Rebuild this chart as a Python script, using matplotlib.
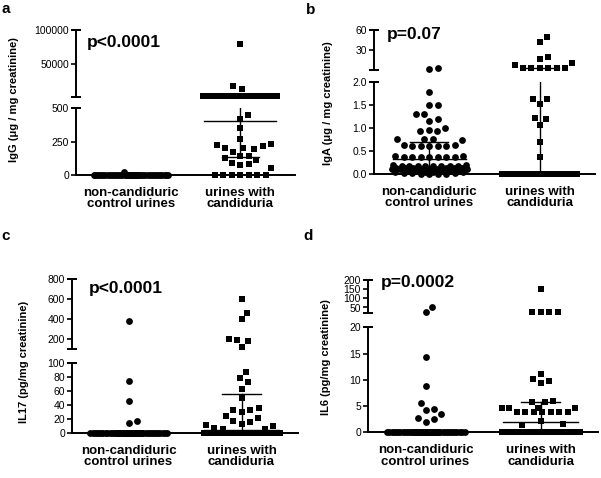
import numpy as np
import matplotlib
matplotlib.use("Agg")
import matplotlib.pyplot as plt

plt.rcParams['font.family'] = ['Liberation Sans', 'DejaVu Sans']

W, H = 601, 478

# ---------------- data ----------------
groups = ["non-candiduric\ncontrol urines", "urines with\ncandiduria"]

# IgG (ug / mg creatinine)
igg_ctrl_zeros = 44
igg_ctrl = [25]
igg_cand_zeros = 7
igg_cand = [80000, 17000, 13000,
            2600, 2800, 3000, 2700, 2900, 3100, 2500, 2750, 2950, 3050, 2650, 2850,
            3200, 2550, 2800, 3000, 2700, 2900, 2600, 3100, 2750, 2950, 2850, 2650,
            445, 415, 350, 270, 225, 200, 195, 205, 233, 215, 175, 140, 145, 115,
            125, 80, 75, 88, 50]

# IgA (ug / mg creatinine)
iga_ctrl_zeros = 4
iga_ctrl = [2.8, 4.6, 1.78, 1.5, 1.5, 1.3, 1.3, 1.2, 1.15, 0.96, 0.93, 0.93, 1.0,
            0.77, 0.77, 0.76, 0.74, 0.64, 0.6, 0.6, 0.6, 0.6, 0.6, 0.63,
            0.4, 0.37, 0.37, 0.37, 0.37, 0.37, 0.37, 0.38, 0.4,
            0.2, 0.2, 0.17, 0.17, 0.17, 0.17, 0.17, 0.17, 0.17, 0.17,
            0.14, 0.14, 0.14, 0.14, 0.14, 0.14, 0.11, 0.11, 0.11, 0.11, 0.11, 0.11,
            0.08, 0.08, 0.08, 0.08, 0.08, 0.05, 0.05, 0.05, 0.05, 0.02, 0.02, 0.02]
iga_cand_zeros = 32
iga_cand = [49, 43, 21, 17, 11, 9, 3.5, 3.5, 3.5, 3.5, 3.5, 3.5,
            1.63, 1.62, 1.52, 1.19, 1.22, 1.07, 0.69, 0.36]

# IL17 (pg/mg creatinine)
il17_ctrl_zeros = 50
il17_ctrl = [386, 74, 45, 17, 14]
il17_cand_zeros = 28
il17_cand = [603, 466, 400, 193, 203, 183, 120,
             87, 78, 72, 63, 50, 36, 33, 33, 29, 24, 21, 17, 15, 13, 11, 9, 7, 5, 5]

# IL6 (pg/mg creatinine)
il6_ctrl_zeros = 50
il6_ctrl = [55, 24, 14.4, 8.9, 5.6, 4.5, 4.2, 3.5, 2.7, 2.5, 2.0]
il6_cand_zeros = 30
il6_cand = [151, 24, 24, 24, 24, 11.1, 10.1, 9.8, 9.4, 6.0, 5.7, 5.7,
            4.6, 4.6, 4.6, 4.6, 3.8, 3.8, 3.8, 3.8, 3.8, 3.8, 3.8, 2.2, 1.6, 1.4]

# median / interquartile range drawn on each group
igg_stats = [(0, 0, 0), (400, 137, 2800)]
iga_stats = [(0.32, 0.12, 0.70), (0, 0, 4.5)]
il17_stats = [(0, 0, 0), (4, 0, 56)]
il6_stats = [(0, 0, 0), (2.0, 0, 5.7)]

p_values = ["p<0.0001", "p=0.07", "p<0.0001", "p=0.0002"]
ylabels = ["IgG (\u03bcg / mg creatinine)", "IgA (\u03bcg / mg creatinine)",
           "IL17 (pg/mg creatinine)", "IL6 (pg/mg creatinine)"]
letters = ["a", "b", "c", "d"]

# ---------------- layout ----------------
panels = [
    dict(x0=76, x1=295, top=(30, 97), bot=(108, 175), ylim_top=(1000, 100000), ylim_bot=(0, 500),
         yt_top=[50000, 100000], yt_bot=[0, 250, 500], fmt_top="{:g}", fmt_bot="{:g}",
         ctrl=[0.0] * igg_ctrl_zeros + igg_ctrl, cand=[0.0] * igg_cand_zeros + igg_cand,
         stats=igg_stats, letter=(6, 9), ylab=(14, 100), ptxt=(87, 42)),
    dict(x0=374, x1=595, top=(30, 69.5), bot=(82, 174), ylim_top=(2, 60), ylim_bot=(0, 2),
         yt_top=[30, 60], yt_bot=[0, 0.5, 1.0, 1.5, 2.0], fmt_top="{:g}", fmt_bot="{:.1f}",
         ctrl=[0.0] * iga_ctrl_zeros + iga_ctrl, cand=[0.0] * iga_cand_zeros + iga_cand,
         stats=iga_stats, letter=(311, 10), ylab=(328, 103), ptxt=(387, 35)),
    dict(x0=72, x1=298, top=(279.3, 349), bot=(362.7, 432.7), ylim_top=(100, 800), ylim_bot=(0, 100),
         yt_top=[200, 400, 600, 800], yt_bot=[0, 20, 40, 60, 80, 100], fmt_top="{:g}", fmt_bot="{:g}",
         ctrl=[0.0] * il17_ctrl_zeros + il17_ctrl, cand=[0.0] * il17_cand_zeros + il17_cand,
         stats=il17_stats, letter=(6, 236), ylab=(24, 362), ptxt=(89, 288)),
    dict(x0=368, x1=598, top=(280, 313), bot=(327.3, 432.3), ylim_top=(20, 200), ylim_bot=(0, 20),
         yt_top=[50, 100, 150, 200], yt_bot=[0, 5, 10, 15, 20], fmt_top="{:g}", fmt_bot="{:g}",
         ctrl=[0.0] * il6_ctrl_zeros + il6_ctrl, cand=[0.0] * il6_cand_zeros + il6_cand,
         stats=il6_stats, letter=(308, 236), ylab=(326, 357), ptxt=(381, 283)),
]

MARK_PX = 8.5
HALF_W = 0.34


def rect(x0, x1, y0, y1):
    return [x0 / W, 1 - y1 / H, (x1 - x0) / W, (y1 - y0) / H]


def swarm(ax_top, ax_bot, brk, values, xc):
    ys = []
    for v in values:
        ax = ax_top if v > brk else ax_bot
        ys.append(ax.transData.transform((xc, v))[1])
    ppx = ax_bot.transData.transform((1, 0))[0] - ax_bot.transData.transform((0, 0))[0]
    steps = np.arange(0, HALF_W * ppx + 0.01, 0.5)
    cand = sorted(set(np.concatenate([steps, -steps])), key=lambda c: (abs(c), -c))
    placed = []
    offs = np.zeros(len(values))
    for i in np.argsort(ys, kind="stable"):
        y = ys[i]
        near = [(px, py) for px, py in placed if abs(py - y) < MARK_PX]
        chosen, best, best_c = None, -1, 0
        for c in cand:
            if not near:
                chosen = c
                break
            dist = min(np.hypot(c - px, y - py) for px, py in near)
            if dist >= MARK_PX:
                chosen = c
                break
            if dist > best:
                best, best_c = dist, c
        if chosen is None:
            chosen = best_c
        placed.append((chosen, y))
        offs[i] = chosen
    return xc + offs / ppx


def draw_stats(ax, xc, stats, lo, hi):
    med, q1, q3 = stats
    for val, half in ((med, 0.33), (q1, 0.17), (q3, 0.17)):
        if lo <= val <= hi:
            ax.plot([xc - half, xc + half], [val, val], color="k", lw=1, zorder=4)
    a, b = max(q1, lo), min(q3, hi)
    if b > a:
        ax.plot([xc, xc], [a, b], color="k", lw=1, zorder=4)


fig = plt.figure(figsize=(W / 100, H / 100), dpi=100)

for k, p in enumerate(panels):
    ax_t = fig.add_axes(rect(p["x0"], p["x1"], *p["top"]))
    ax_b = fig.add_axes(rect(p["x0"], p["x1"], *p["bot"]))
    brk = p["ylim_bot"][1]
    for ax, lim, ticks, fmt in ((ax_t, p["ylim_top"], p["yt_top"], p["fmt_top"]),
                                (ax_b, p["ylim_bot"], p["yt_bot"], p["fmt_bot"])):
        ax.set_xlim(0.5, 2.5)
        ax.set_ylim(*lim)
        ax.set_yticks(ticks)
        ax.set_yticklabels([fmt.format(t) for t in ticks])
        ax.patch.set_visible(False)
        for s in ("top", "right"):
            ax.spines[s].set_visible(False)
        ax.spines["left"].set_linewidth(1.4)
        ax.tick_params(axis="y", direction="out", length=3.5, width=1.2, labelsize=7.5, pad=1.5)
        ax.plot([0, 0], [1, 1], marker="_", ms=7, mew=1.4, color="k",
                transform=ax.transAxes, clip_on=False)
    ax_t.spines["bottom"].set_visible(False)
    ax_t.set_xticks([])
    ax_t.plot([0], [0], marker="_", ms=7, mew=1.4, color="k", transform=ax_t.transAxes, clip_on=False)
    ax_b.spines["bottom"].set_linewidth(1.4)
    ax_b.set_xticks([1, 2])
    ax_b.set_xticklabels(groups, fontsize=9.5, fontweight="bold", linespacing=0.95)
    ax_b.tick_params(axis="x", direction="out", length=2.5, width=1.2, pad=6)

    for gi, (vals, mk) in enumerate(((p["ctrl"], "o"), (p["cand"], "s"))):
        xc = gi + 1
        vals = np.array(vals, dtype=float)
        xs = swarm(ax_t, ax_b, brk, vals, xc)
        up = vals > brk
        size = 24 if mk == "o" else 21
        ax_t.scatter(xs[up], vals[up], s=size, marker=mk, color="k",
                     linewidths=0, clip_on=False, zorder=3)
        ax_b.scatter(xs[~up], vals[~up], s=size, marker=mk, color="k",
                     linewidths=0, clip_on=False, zorder=3)
        draw_stats(ax_t, xc, p["stats"][gi], brk, p["ylim_top"][1])
        draw_stats(ax_b, xc, p["stats"][gi], 0, brk)

    fig.text(p["letter"][0] / W, 1 - p["letter"][1] / H, letters[k], fontsize=11,
             fontweight="bold", ha="center", va="center")
    fig.text(p["ylab"][0] / W, 1 - p["ylab"][1] / H, ylabels[k], fontsize=8,
             fontweight="bold", rotation=90, ha="center", va="center")
    fig.text(p["ptxt"][0] / W, 1 - p["ptxt"][1] / H, p_values[k], fontsize=12.5,
             fontweight="bold", ha="left", va="center")

fig.savefig("out.png", dpi=100)
